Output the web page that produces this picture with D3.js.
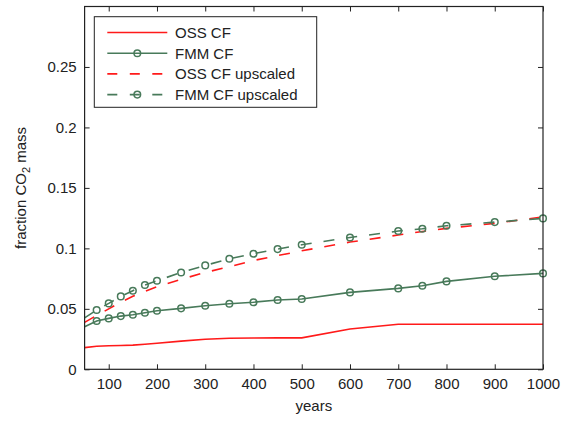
<!DOCTYPE html>
<html><head><meta charset="utf-8">
<script src="https://cdn.jsdelivr.net/npm/d3@7"></script>
<style>
body{margin:0;background:#fff;}
svg{display:block;font-family:"Liberation Sans",Arial,Helvetica,sans-serif;}
</style></head>
<body>
<svg id="chart" width="568" height="421"></svg>
<script>
const years = [50,75,100,125,150,175,200,250,300,350,400,450,500,600,700,750,800,900,1000];
const ossCF = [0.0179,0.0190,0.0195,0.0197,0.0200,0.0207,0.0215,0.0233,0.0248,0.0257,0.0259,0.0260,0.0260,0.0333,0.0372,0.0373,0.0373,0.0373,0.0373];
const fmmCF = [0.0352,0.0399,0.0421,0.0440,0.0451,0.0468,0.0484,0.0504,0.0526,0.0542,0.0555,0.0573,0.0581,0.0636,0.0669,0.0691,0.0727,0.0769,0.0793];
const ossUp = [0.0388,0.0445,0.0500,0.0555,0.0604,0.0645,0.0683,0.0744,0.0801,0.0848,0.0900,0.0940,0.0980,0.1052,0.1110,0.1140,0.1165,0.1207,0.1260];
const fmmUp = [0.0425,0.0490,0.0545,0.0603,0.0650,0.0697,0.0732,0.0801,0.0859,0.0914,0.0956,0.0994,0.1030,0.1090,0.1143,0.1162,0.1187,0.1217,0.1248];
const xTicks = [100,200,300,400,500,600,700,800,900,1000];
const yTicks = [0,0.05,0.1,0.15,0.2,0.25];
const yTickLabels = ["0","0.05","0.1","0.15","0.2","0.25"];
const legendLabels = ["OSS CF","FMM CF","OSS CF upscaled","FMM CF upscaled"];

const RED = "#ff1a1a", GREEN = "#487a5a";
const FS = "15px";
const svg = d3.select("#chart");
const L = 84.6, R = 543, T = 6.5, B = 369.3;
const x = d3.scaleLinear().domain([50,1000]).range([L,R]);
const y = d3.scaleLinear().domain([0,0.3]).range([B,T]);

const series = [
  {vals: ossCF, color: RED, dash: null, marker: false},
  {vals: fmmCF, color: GREEN, dash: null, marker: true},
  {vals: ossUp, color: RED, dash: "11,12", marker: false},
  {vals: fmmUp, color: GREEN, dash: "11,12", marker: true}
];
const line = d3.line().x(d => x(d[0])).y(d => y(d[1]));
svg.append("defs").append("clipPath").attr("id","clip")
  .append("rect").attr("x",L).attr("y",T).attr("width",R-L).attr("height",B-T);
const plot = svg.append("g").attr("clip-path","url(#clip)");
series.forEach(s => {
  const pts = years.map((yr,i) => [yr, s.vals[i]]);
  plot.append("path").attr("d", line(pts)).attr("fill","none")
    .attr("stroke", s.color).attr("stroke-width",1.6)
    .attr("stroke-dasharray", s.dash);
  if (s.marker) {
    svg.append("g").selectAll("circle").data(pts.slice(1)).join("circle")
      .attr("cx", d => x(d[0])).attr("cy", d => y(d[1])).attr("r",3.3)
      .attr("fill","none").attr("stroke", s.color).attr("stroke-width",1.5);
  }
});

// axes
const ax = svg.append("g");
const gBottom = ax.append("g").attr("transform",`translate(0,${B})`)
  .call(d3.axisBottom(x).tickValues(xTicks).tickSize(-5).tickPadding(9).tickFormat(d3.format("d")));
const gTop = ax.append("g").attr("transform",`translate(0,${T})`)
  .call(d3.axisTop(x).tickValues(xTicks).tickSize(-5).tickFormat(""));
const gLeft = ax.append("g").attr("transform",`translate(${L},0)`)
  .call(d3.axisLeft(y).tickValues(yTicks).tickSize(-5).tickPadding(8).tickFormat((d,i)=>yTickLabels[i]));
const gRight = ax.append("g").attr("transform",`translate(${R},0)`)
  .call(d3.axisRight(y).tickValues(yTicks).tickSize(-5).tickFormat(""));
[gBottom,gTop,gLeft,gRight].forEach(g => {
  g.select(".domain").remove();
  g.selectAll("line").attr("stroke","#222");
  g.selectAll("text").attr("fill","#222").style("font-size",FS)
   .style("font-family","'Liberation Sans',Arial,sans-serif");
});
svg.append("rect").attr("x",L).attr("y",T).attr("width",R-L).attr("height",B-T)
  .attr("fill","none").attr("stroke","#222").attr("stroke-width",1.2);

// labels
svg.append("text").attr("x",(L+R)/2).attr("y",411).attr("text-anchor","middle")
  .style("font-size",FS).attr("fill","#222").text("years");
const yl = svg.append("text").attr("transform",`translate(26,${(T+B)/2}) rotate(-90)`)
  .attr("text-anchor","middle").style("font-size",FS).attr("fill","#222");
yl.append("tspan").text("fraction CO");
yl.append("tspan").attr("dy",4).style("font-size","11px").text("2");
yl.append("tspan").attr("dy",-4).text(" mass");

// legend
const lg = svg.append("g");
lg.append("rect").attr("x",94.3).attr("y",16.7).attr("width",222.4).attr("height",90.6)
  .attr("fill","#fff").attr("stroke","#222").attr("stroke-width",1);
series.forEach((s,i) => {
  const cy = 32.5 + i*20.7;
  lg.append("line").attr("x1",107.3).attr("x2",167.3).attr("y1",cy).attr("y2",cy)
    .attr("stroke",s.color).attr("stroke-width",1.6)
    .attr("stroke-dasharray", s.dash ? "10,12.5" : null);
  if (s.marker) lg.append("circle").attr("cx",137.3).attr("cy",cy).attr("r",3.3)
    .attr("fill","none").attr("stroke",s.color).attr("stroke-width",1.5);
  lg.append("text").attr("x",175).attr("y",cy+5.5).style("font-size",FS)
    .attr("fill","#222").text(legendLabels[i]);
});
</script>
</body></html>
